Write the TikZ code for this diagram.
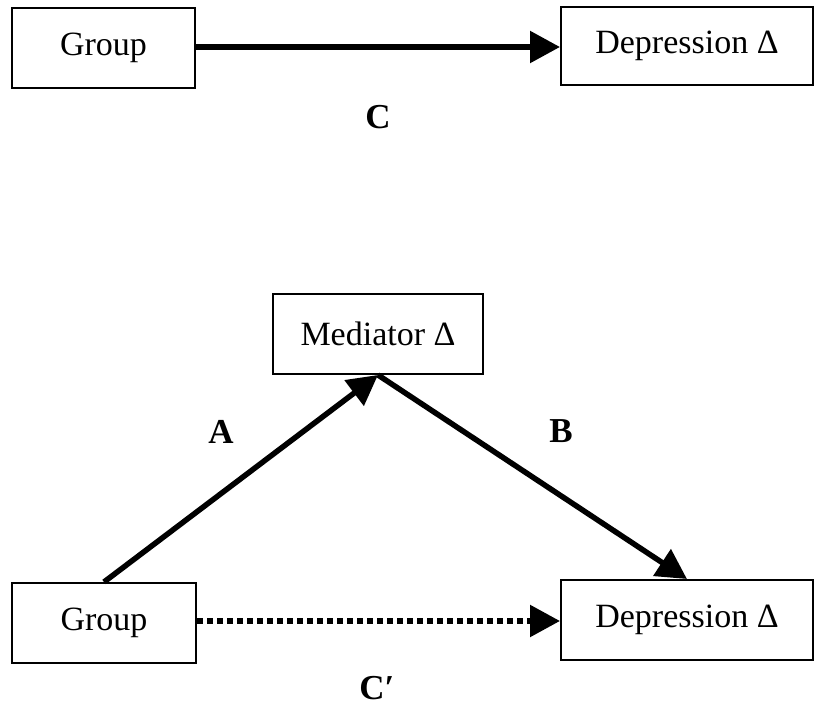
\documentclass[tikz,border=0pt]{standalone}
\usepackage{fontspec}
\setmainfont{Liberation Serif}
\usetikzlibrary{arrows.meta}
\begin{document}
\begin{tikzpicture}[x=1pt,y=-1pt,
  box/.style={draw,line width=2pt,minimum height=80pt,inner sep=0pt,font=\fontsize{34}{40}\selectfont},
  conn/.style={line width=5.5pt,-{Triangle[length=30pt,width=31pt]}},
  lbl/.style={font=\fontsize{35}{40}\selectfont\bfseries,inner sep=0pt}]
\useasboundingbox (0,0) rectangle (815,708);
\node[box,minimum width=183pt] (g1) at (103.5,48) {Group};
\node[box,minimum width=252pt,minimum height=78pt] (d1) at (687,46) {Depression Δ};
\node[box,minimum width=210pt] (m) at (378,334) {Mediator Δ};
\node[box,minimum width=184pt] (g2) at (104,623) {Group};
\node[box,minimum width=252pt] (d2) at (687,620) {Depression Δ};
\draw[conn] (g1.east |- 0,47) -- (d1.west |- 0,47);
\draw[conn] (g2.north) -- (m.south);
\draw[conn] (m.south) -- (d2.north);
\draw[conn,dash pattern=on 6pt off 4pt] (g2.east |- 0,621) -- (d2.west |- 0,621);
\node[lbl] (c) at (378,117) {C};
\node[lbl] (a) at (221,432) {A};
\node[lbl] (b) at (561,431) {B};
\node[lbl] (cp) at (377,688) {C′};
\end{tikzpicture}
\end{document}
